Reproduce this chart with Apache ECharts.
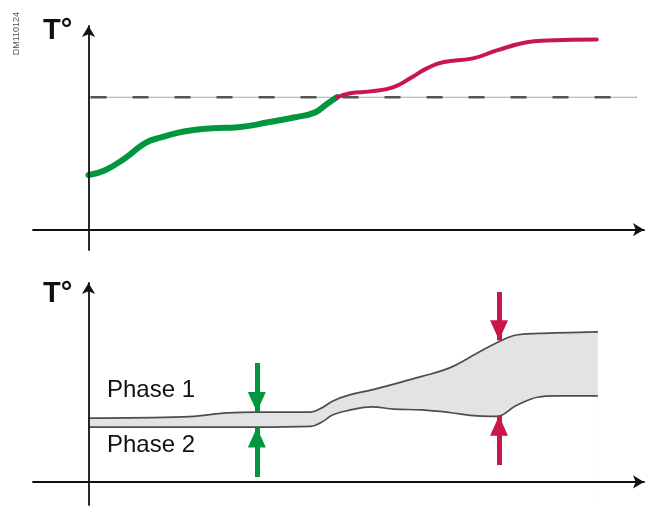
<!DOCTYPE html>
<html>
<head>
<meta charset="utf-8">
<script src="https://cdn.jsdelivr.net/npm/echarts@6/dist/echarts.min.js"></script>
<style>
  html, body { margin: 0; padding: 0; background: #fff; }
  #main { width: 652px; height: 511px; }
</style>
</head>
<body>
<div id="main"></div>
<script>
// top chart: temperature curve, green below the limit, red above it
const greenX = [0, 2.97, 6.57, 10.2, 13.2, 17.4, 22.3, 26.9, 32.3, 37.2, 40.8, 42.6, 44.7];
const greenT = [26.8, 29.2, 35.1, 42.5, 45.4, 48.3, 49.8, 50.3, 52.7, 55.2, 57.6, 61.1, 65.0];
const redX = [44.7, 47.1, 50.7, 54.8, 57.9, 60.9, 63.8, 69.2, 73.5, 78.9, 82.5, 91.5];
const redT = [65.0, 67.0, 67.9, 69.9, 74.3, 79.2, 82.2, 84.1, 88.0, 92.0, 92.9, 93.4];
const limitT = 65;
const limitEnd = 98.7;

// bottom chart: band between phase 1 and phase 2 temperatures
const bandX = [0, 17, 25, 30, 40, 42, 44, 47, 51, 55, 60, 65, 70, 73.5, 77, 81, 84, 91.7];
const phase1 = [27.6, 28.1, 29.8, 30.2, 30.2, 32.0, 35.0, 37.6, 39.8, 42.3, 45.6, 49.3, 55.7, 60.2, 63.5, 64.2, 64.4, 64.9];
const phase2 = [23.7, 23.7, 23.7, 23.7, 24.0, 25.9, 29.0, 31.0, 32.4, 31.5, 31.1, 30.0, 28.5, 28.3, 33.0, 36.7, 37.2, 37.2];

// arrows pointing at the band
const arrowX = [30.3, 73.9];
const arrowTop = [51.4, 82.1];
const arrowHigh = [30.2, 61.2];
const arrowLow = [23.5, 28.6];
const arrowBottom = [2.1, 7.3];

const GREEN = "#00973f";
const RED = "#c8174a";
const arrowColors = [GREEN, RED];

const chart = echarts.init(document.getElementById("main"), null, { renderer: "canvas" });

const axisArrow = {
  show: true,
  onZero: true,
  symbol: ["none", "arrow"],
  symbolSize: [10, 11],
  lineStyle: { color: "#111", width: 1.8 },
};

const hiddenBits = {
  z: 10,
  axisTick: { show: false },
  axisLabel: { show: false },
  splitLine: { show: false },
};

function pairs(xs, ys) {
  return xs.map((x, i) => [x, ys[i]]);
}

const arrowSeries = arrowX.map((x, i) => ({
  type: "line",
  xAxisIndex: 1,
  yAxisIndex: 1,
  data: [],
  silent: true,
  z: 5,
  markLine: {
    silent: true,
    animation: false,
    symbol: ["none", "triangle"],
    symbolSize: [18, 20],
    symbolOffset: [0, [0, 10]],
    label: { show: false },
    lineStyle: { color: arrowColors[i], width: 5, type: "solid" },
    emphasis: { disabled: true },
    data: [
      [{ coord: [x, arrowTop[i]] }, { coord: [x, arrowHigh[i]] }],
      [{ coord: [x, arrowBottom[i]] }, { coord: [x, arrowLow[i]] }],
    ],
  },
}));

const textFont = "'Liberation Sans', Arial, sans-serif";

const option = {
  animation: false,
  backgroundColor: "#fff",
  grid: [
    { left: 33, right: 8, top: 26, height: 224 },
    { left: 33, right: 8, top: 283, height: 222 },
  ],
  xAxis: [
    { type: "value", gridIndex: 0, min: -10, max: 100, axisLine: axisArrow, ...hiddenBits },
    { type: "value", gridIndex: 1, min: -10, max: 100, axisLine: axisArrow, ...hiddenBits },
  ],
  yAxis: [
    { type: "value", gridIndex: 0, min: -10, max: 100, axisLine: axisArrow, ...hiddenBits },
    { type: "value", gridIndex: 1, min: -10, max: 86, axisLine: axisArrow, ...hiddenBits },
  ],
  graphic: [
    {
      type: "text", left: 12, top: 12, rotation: Math.PI / 2, z: 100,
      style: { text: "DM110124", font: "9px " + textFont, fill: "#555" },
    },
    {
      type: "text", left: 43, top: 16, z: 100,
      style: { text: "T°", font: "bold 29px " + textFont, fill: "#111" },
    },
    {
      type: "text", left: 43, top: 279, z: 100,
      style: { text: "T°", font: "bold 29px " + textFont, fill: "#111" },
    },
    {
      type: "text", left: 107, top: 378, z: 100,
      style: { text: "Phase 1", font: "24px " + textFont, fill: "#111" },
    },
    {
      type: "text", left: 107, top: 433, z: 100,
      style: { text: "Phase 2", font: "24px " + textFont, fill: "#111" },
    },
  ],
  series: [
    // limit line: thin grey line under dark dashes
    {
      type: "line", xAxisIndex: 0, yAxisIndex: 0, silent: true, showSymbol: false, z: 1,
      data: [[0, limitT], [limitEnd, limitT]],
      lineStyle: { color: "#aaa", width: 1 },
    },
    {
      type: "line", xAxisIndex: 0, yAxisIndex: 0, silent: true, showSymbol: false, z: 1,
      data: [[0, limitT], [limitEnd, limitT]],
      lineStyle: { color: "#555", width: 2.6, type: [16, 26], dashOffset: -2 },
    },
    {
      type: "line", xAxisIndex: 0, yAxisIndex: 0, silent: true, showSymbol: false, z: 3,
      smooth: 0.5,
      data: pairs(greenX, greenT),
      lineStyle: { color: GREEN, width: 6, cap: "round" },
    },
    {
      type: "line", xAxisIndex: 0, yAxisIndex: 0, silent: true, showSymbol: false, z: 3,
      smooth: 0.5,
      data: pairs(redX, redT),
      lineStyle: { color: RED, width: 4, cap: "round" },
    },
    // band: grey fill under phase 1, white fill under phase 2 masks the rest
    {
      type: "line", xAxisIndex: 1, yAxisIndex: 1, silent: true, showSymbol: false, z: 2,
      smooth: 0.4,
      data: pairs(bandX, phase1),
      lineStyle: { color: "#4d4d4d", width: 1.7 },
      areaStyle: { color: "#e3e3e3", opacity: 1, origin: "start" },
    },
    {
      type: "line", xAxisIndex: 1, yAxisIndex: 1, silent: true, showSymbol: false, z: 3,
      smooth: 0.4,
      data: pairs(bandX, phase2),
      lineStyle: { color: "#4d4d4d", width: 1.7 },
      areaStyle: { color: "#ffffff", opacity: 1, origin: "start" },
    },
    ...arrowSeries,
  ],
};

chart.setOption(option);
</script>
</body>
</html>
